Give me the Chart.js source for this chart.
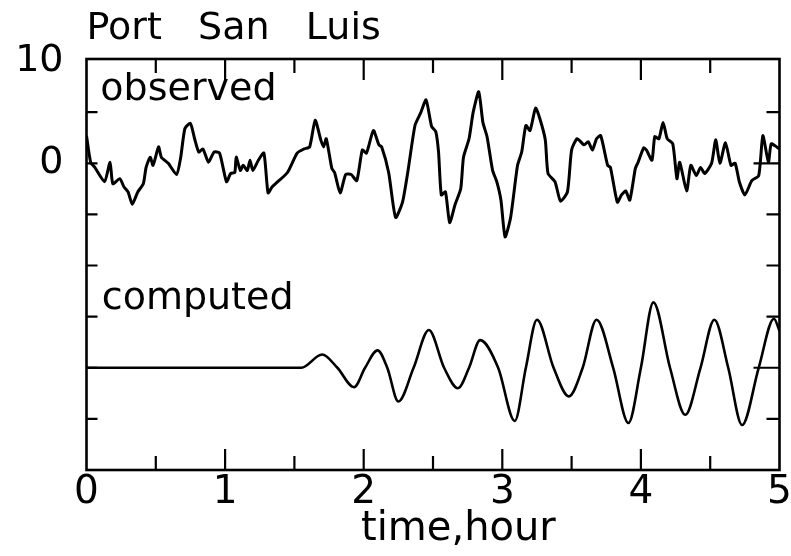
<!DOCTYPE html>
<html lang="en">
<head>
<meta charset="UTF-8">
<title>Port San Luis</title>
<script src="https://cdn.jsdelivr.net/npm/chart.js@4.4.1/dist/chart.umd.min.js"></script>
<style>
  html, body { margin: 0; padding: 0; background: #fff; }
  #wrap { width: 791px; height: 556px; position: relative; }
</style>
</head>
<body>
<div id="wrap"><canvas id="tide_chart"></canvas></div>
<script>
// observed record (hours / level)
var obsTime = [0.00, 0.03, 0.06, 0.13, 0.17, 0.19, 0.24, 0.27, 0.30, 0.33, 0.37, 0.41, 0.43, 0.46, 0.48, 0.52, 0.54, 0.59, 0.65, 0.68,
  0.71, 0.75, 0.78, 0.81, 0.84, 0.88, 0.92, 0.96, 1.01, 1.04, 1.07, 1.08, 1.11, 1.13, 1.16, 1.18, 1.20, 1.24, 1.28, 1.31,
  1.34, 1.38, 1.45, 1.52, 1.57, 1.61, 1.65, 1.69, 1.71, 1.73, 1.77, 1.79, 1.83, 1.87, 1.91, 1.95, 1.99, 2.02, 2.07, 2.11,
  2.13, 2.18, 2.23, 2.28, 2.32, 2.37, 2.41, 2.45, 2.49, 2.52, 2.54, 2.56, 2.59, 2.62, 2.66, 2.70, 2.72, 2.76, 2.79, 2.83,
  2.86, 2.89, 2.93, 2.96, 2.99, 3.02, 3.06, 3.11, 3.14, 3.17, 3.20, 3.24, 3.27, 3.31, 3.33, 3.38, 3.42, 3.47, 3.50, 3.54,
  3.59, 3.62, 3.65, 3.68, 3.71, 3.76, 3.78, 3.83, 3.86, 3.89, 3.92, 3.96, 3.98, 4.02, 4.04, 4.08, 4.10, 4.13, 4.16, 4.19,
  4.23, 4.26, 4.28, 4.33, 4.36, 4.40, 4.43, 4.46, 4.51, 4.54, 4.57, 4.61, 4.65, 4.68, 4.71, 4.75, 4.80, 4.85, 4.88, 4.92,
  4.94, 4.98, 5.00];
var obsLevel = [2.7, 0.1, -0.4, -1.8, 0.1, -2.0, -1.5, -2.3, -2.8, -4.0, -2.8, -2.0, -0.4, 0.6, -0.2, 1.6, 0.6, 0.0, -1.1, 0.6,
  3.4, 3.9, 2.4, 1.1, 1.4, 0.1, 1.1, 1.0, -1.8, -1.0, -0.9, 0.6, -0.7, -0.2, -0.7, 0.3, -0.7, 0.3, 1.0, -2.9,
  -2.3, -1.8, -0.9, 1.0, 1.4, 1.6, 4.2, 2.3, 1.6, 2.4, -0.5, -0.9, -2.9, -1.1, -1.1, -1.7, 1.3, 1.0, 3.2, 1.8,
  1.6, -0.9, -5.3, -3.8, -0.7, 3.7, 4.9, 6.2, 3.6, 3.1, 1.1, -3.1, -2.8, -5.8, -4.0, -2.5, 0.6, 2.4, 5.0, 7.0,
  4.0, 2.6, -0.7, -1.8, -3.6, -7.2, -5.3, -0.2, 1.1, 3.7, 3.2, 5.4, 4.4, 2.3, -1.0, -1.8, -3.7, -2.8, 1.3, 2.4,
  1.8, 2.1, 1.3, 2.4, 2.7, -0.2, -0.4, -3.8, -3.1, -2.7, -3.6, -0.5, 0.1, 1.5, 1.3, 0.3, 2.6, 2.4, 4.0, 2.4,
  1.9, -1.5, 0.1, -2.7, -0.2, -1.2, -0.4, -1.0, 0.0, 2.3, 0.0, 2.0, -0.2, 0.0, -1.8, -3.1, -1.7, -1.2, 2.7, 0.1,
  1.9, 1.6, 1.4];

// computed record, drawn on a baseline shifted to -20
var compTime = [0.00, 1.55, 1.70, 1.81, 1.93, 2.01, 2.10, 2.17, 2.25, 2.36, 2.47, 2.58, 2.68, 2.76, 2.84, 2.97, 3.09, 3.17,
  3.25, 3.37, 3.48, 3.58, 3.68, 3.80, 3.91, 4.00, 4.09, 4.21, 4.32, 4.43, 4.53, 4.63, 4.73, 4.85, 4.96, 5.00];
var compLevel = [-20, -20, -18.7, -20, -21.9, -20, -18.3, -20, -23.3, -20, -16.3, -20, -22.0, -20, -17.3, -20, -25.2, -20,
  -15.3, -20, -22.8, -20, -15.3, -20, -25.4, -20, -13.6, -20, -24.6, -20, -15.3, -20, -25.6, -20, -15.2, -16.4];

var yLabelValues = [0, 10];
var yMarkValues = [5, 0, -5, -10, -15, -20, -25];
var baseLines = [0, -20];
var seriesNames = ['observed', 'computed'];

var fontName = '"DejaVu Sans", sans-serif';

function toPoints(xs, ys) {
  return xs.map(function (x, i) { return { x: x, y: ys[i] }; });
}

// box, inward tick marks and the two series names
var frameTicks = {
  id: 'frameTicks',
  afterDatasetsDraw: function (chart) {
    var ctx = chart.ctx, a = chart.chartArea;
    var xs = chart.scales.x, ys = chart.scales.y;
    ctx.save();
    ctx.strokeStyle = '#000';
    ctx.lineWidth = 2.6;
    ctx.strokeRect(a.left, a.top, a.right - a.left, a.bottom - a.top);

    ctx.lineWidth = 2.2;
    ctx.beginPath();
    for (var t = 0.5; t < 5; t += 0.5) {
      var len = (t % 1 === 0) ? 21 : 14;
      var px = xs.getPixelForValue(t);
      ctx.moveTo(px, a.bottom); ctx.lineTo(px, a.bottom - len);
      ctx.moveTo(px, a.top); ctx.lineTo(px, a.top + len);
    }
    yMarkValues.forEach(function (v) {
      var py = ys.getPixelForValue(v);
      var rlen = baseLines.indexOf(v) >= 0 ? 26 : 13;
      ctx.moveTo(a.left, py); ctx.lineTo(a.left + 11, py);
      ctx.moveTo(a.right, py); ctx.lineTo(a.right - rlen, py);
    });
    ctx.stroke();

    ctx.fillStyle = '#000';
    ctx.font = '38px ' + fontName;
    ctx.textAlign = 'left';
    ctx.textBaseline = 'alphabetic';
    ctx.fillText(seriesNames[0], xs.getPixelForValue(0.1), ys.getPixelForValue(6.2));
    ctx.fillText(seriesNames[1], xs.getPixelForValue(0.11), ys.getPixelForValue(-14.3));
    ctx.restore();
  }
};

var ctx = document.getElementById('tide_chart');

window.tideChart = new Chart(ctx, {
  type: 'line',
  data: {
    datasets: [
      {
        label: seriesNames[0],
        data: toPoints(obsTime, obsLevel),
        borderColor: '#000',
        borderWidth: 3,
        borderJoinStyle: 'round',
        tension: 0.2,
        pointRadius: 0
      },
      {
        label: seriesNames[1],
        data: toPoints(compTime, compLevel),
        borderColor: '#000',
        borderWidth: 2.6,
        borderJoinStyle: 'round',
        cubicInterpolationMode: 'monotone',
        pointRadius: 0
      }
    ]
  },
  options: {
    responsive: true,
    maintainAspectRatio: false,
    animation: false,
    layout: { padding: { left: 0, right: 11.5, top: 0, bottom: 0 } },
    plugins: {
      legend: { display: false },
      tooltip: { enabled: false },
      title: {
        display: true,
        text: 'Port\u00A0\u00A0\u00A0San\u00A0\u00A0\u00A0Luis',
        align: 'start',
        fullSize: false,
        color: '#000',
        font: { family: fontName, size: 38, weight: 'normal', lineHeight: 1.2 },
        padding: { top: 6, bottom: 7.4 }
      }
    },
    scales: {
      x: {
        type: 'linear',
        min: 0,
        max: 5,
        afterFit: function (scale) { scale.height = 86; },
        ticks: {
          stepSize: 1,
          color: '#000',
          maxRotation: 0,
          padding: -5,
          font: { family: fontName, size: 39, lineHeight: 1 }
        },
        grid: { display: false },
        border: { display: false },
        title: {
          display: true,
          text: '\u00A0\u00A0\u00A0\u00A0time,hour',
          color: '#000',
          font: { family: fontName, size: 40, lineHeight: 1 },
          padding: { top: 0, bottom: 6.5 }
        }
      },
      y: {
        type: 'linear',
        min: -30,
        max: 10.2,
        afterFit: function (scale) { scale.width = 86.5; },
        afterBuildTicks: function (scale) {
          scale.ticks = yLabelValues.map(function (v) { return { value: v }; });
        },
        ticks: {
          color: '#000',
          padding: 15,
          font: { family: fontName, size: 38, lineHeight: 1 }
        },
        grid: { display: false },
        border: { display: false }
      }
    }
  },
  plugins: [frameTicks]
});
</script>
</body>
</html>
